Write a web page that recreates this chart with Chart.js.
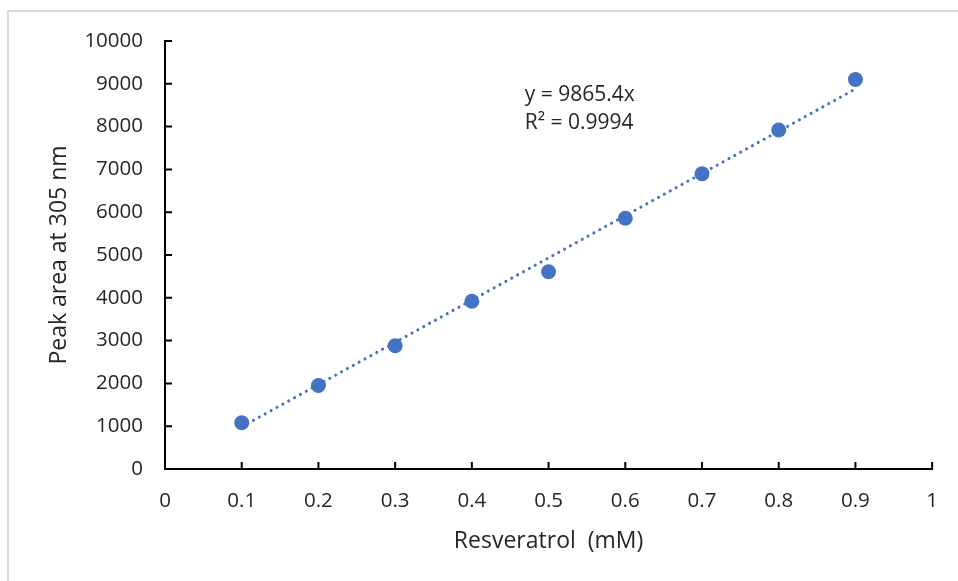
<!DOCTYPE html>
<html lang="en">
<head>
    <meta charset="UTF-8">
    <title>Resveratrol calibration</title>
    <script src="https://cdn.jsdelivr.net/npm/chart.js"></script>
    <style>
        body { margin: 0; background: #fff; overflow: hidden; }
        #frame { position: absolute; left: 7px; top: 10px; width: 1000px; height: 700px;
                 border-left: 2px solid #d9d9d9; border-top: 2px solid #d9d9d9; }
        #grafico { position: absolute; left: 0; top: 0; }
    </style>
</head>
<body>
    <div id="frame"></div>
    <canvas id="grafico" width="958" height="581"></canvas>

    <script>
        // dados
        const concentracoes = [0.1, 0.2, 0.3, 0.4, 0.5, 0.6, 0.7, 0.8, 0.9];
        const areas = [1080, 1950, 2880, 3920, 4610, 5860, 6900, 7920, 9100];

        // linha de tendência (y = 9865.4x)
        const inclinacao = 9865.4;
        const tendenciaX = [0.1, 0.9];
        const equacao = ['y = 9865.4x', 'R² = 0.9994'];
        const posEquacao = [0.469, 8740];

        const azul = '#4472C4';
        const fonte = "'Open Sans', sans-serif";

        // marcas de escala para dentro, como no Excel
        const marcasInternas = {
            id: 'marcasInternas',
            afterDraw(chart) {
                const ctx = chart.ctx;
                const sx = chart.scales.x, sy = chart.scales.y;
                ctx.save();
                ctx.strokeStyle = '#000';
                ctx.lineWidth = 2;
                ctx.beginPath();
                sx.ticks.forEach(t => {
                    const px = sx.getPixelForValue(t.value);
                    ctx.moveTo(px, sy.bottom);
                    ctx.lineTo(px, sy.bottom - 7);
                });
                sy.ticks.forEach(t => {
                    const py = sy.getPixelForValue(t.value);
                    ctx.moveTo(sx.left, py);
                    ctx.lineTo(sx.left + 7, py);
                });
                ctx.stroke();

                ctx.fillStyle = '#262626';
                ctx.font = '21px ' + fonte;
                ctx.textAlign = 'left';
                ctx.textBaseline = 'middle';
                const ex = sx.getPixelForValue(posEquacao[0]);
                const ey = sy.getPixelForValue(posEquacao[1]);
                equacao.forEach((linha, i) => ctx.fillText(linha, ex, ey + i * 28));
                ctx.restore();
            }
        };

        const ctx = document.getElementById('grafico').getContext('2d');
        new Chart(ctx, {
            data: {
                datasets: [{
                    type: 'line',
                    data: tendenciaX.map(x => ({ x: x, y: inclinacao * x })),
                    borderColor: azul,
                    borderWidth: 3,
                    borderDash: [0.1, 6.6],
                    borderCapStyle: 'round',
                    pointRadius: 0,
                    fill: false,
                    order: 0
                }, {
                    type: 'scatter',
                    data: concentracoes.map((x, i) => ({ x: x, y: areas[i] })),
                    backgroundColor: azul,
                    borderWidth: 0,
                    pointRadius: 7.5,
                    order: 1
                }]
            },
            options: {
                responsive: false,
                animation: false,
                layout: { padding: { top: 41, right: 22, left: 0, bottom: 0 } },
                plugins: {
                    legend: { display: false },
                    tooltip: { enabled: false }
                },
                scales: {
                    x: {
                        type: 'linear',
                        min: 0, max: 1,
                        ticks: {
                            stepSize: 0.1,
                            padding: 20,
                            color: '#262626',
                            font: { family: fonte, size: 20.5 },
                            callback: v => String(+v.toFixed(1))
                        },
                        grid: { drawOnChartArea: false, drawTicks: false },
                        border: { color: '#000', width: 2 },
                        title: {
                            display: true,
                            text: 'Resveratrol  (mM)',
                            color: '#262626',
                            font: { family: fonte, size: 23 },
                            padding: { top: 0, bottom: 26 }
                        },
                        afterFit: s => { s.height = 112; }
                    },
                    y: {
                        type: 'linear',
                        min: 0, max: 10000,
                        ticks: {
                            stepSize: 1000,
                            padding: 22,
                            color: '#262626',
                            font: { family: fonte, size: 20.5 },
                            callback: v => String(v)
                        },
                        grid: { drawOnChartArea: false, drawTicks: false },
                        border: { color: '#000', width: 2 },
                        title: {
                            display: true,
                            text: 'Peak area at 305 nm',
                            color: '#262626',
                            font: { family: fonte, size: 23 },
                            padding: { top: 46, bottom: 0 }
                        },
                        afterFit: s => { s.width = 165; }
                    }
                }
            },
            plugins: [marcasInternas]
        });
    </script>
</body>
</html>
